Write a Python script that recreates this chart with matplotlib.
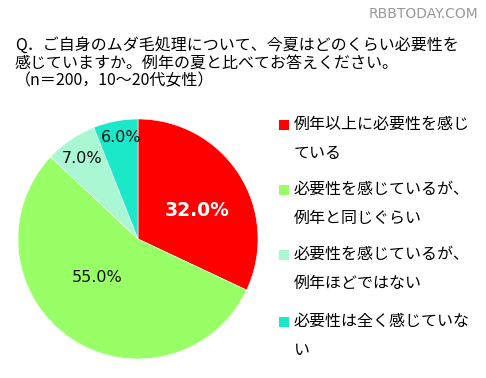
import numpy as np
import matplotlib.pyplot as plt
from matplotlib.patches import Rectangle

plt.rcParams['font.family'] = ['Noto Sans CJK JP', 'DejaVu Sans']

# データ
labels = ['例年以上に必要性を感じ\nている',
          '必要性を感じているが、\n例年と同じぐらい',
          '必要性を感じているが、\n例年ほどではない',
          '必要性は全く感じていな\nい']
values = [32.0, 55.0, 7.0, 6.0]
colors = ['#ff0000', '#99ff66', '#aaf7d4', '#1ae8c8']
title = 'Q．ご自身のムダ毛処理について、今夏はどのくらい必要性を\n感じていますか。例年の夏と比べてお答えください。\n（n＝200，10〜20代女性）'

W, H = 486, 378
fig = plt.figure(figsize=(W / 100, H / 100), dpi=100)

# 円グラフ
ax = fig.add_axes([18 / W, (H - 359) / H, 240 / W, 240 / H])
wedges, _ = ax.pie(values, colors=colors, startangle=90, counterclock=False,
                   radius=1, wedgeprops=dict(edgecolor='white', linewidth=0.4))
ax.set_xlim(-1, 1)
ax.set_ylim(-1, 1)
ax.set_aspect('equal')
ax.axis('off')

# ラベル位置 (半径, 角度)
label_r = [0.55, 0.47, 0.82, 0.86]
label_ang = [26, 223.6, 124.7, 99.5]
for i, (v, r, a) in enumerate(zip(values, label_r, label_ang)):
    x, y = r * np.cos(np.deg2rad(a)), r * np.sin(np.deg2rad(a))
    if i == 0:
        ax.text(x, y, f'{v:.1f}%', color='white', fontsize=13.5, fontweight='bold',
                ha='center', va='center', family=['DejaVu Sans'])
    else:
        ax.text(x, y, f'{v:.1f}%', color='#111111', fontsize=11.5,
                ha='center', va='center', family=['DejaVu Sans'])

# タイトル
fig.text(15 / W, 1 - 37 / H, title, fontsize=11.5, ha='left', va='top', linespacing=1.05)

# ウォーターマーク
fig.text(478 / W, 1 - 14 / H, 'RBBTODAY.COM', fontsize=10, color='#999999',
         ha='right', va='center', family=['DejaVu Sans'])

# 凡例
leg_y = [125, 190, 255, 322]
for lab, c, y in zip(labels, colors, leg_y):
    fig.patches.append(Rectangle((279 / W, 1 - (y + 5) / H), 10 / W, 10 / H,
                                 transform=fig.transFigure, facecolor=c, edgecolor='none'))
    fig.text(294 / W, 1 - (y - 9) / H, lab, fontsize=11.5, ha='left', va='top',
             linespacing=1.9)

fig.savefig('out.png', dpi=100)
